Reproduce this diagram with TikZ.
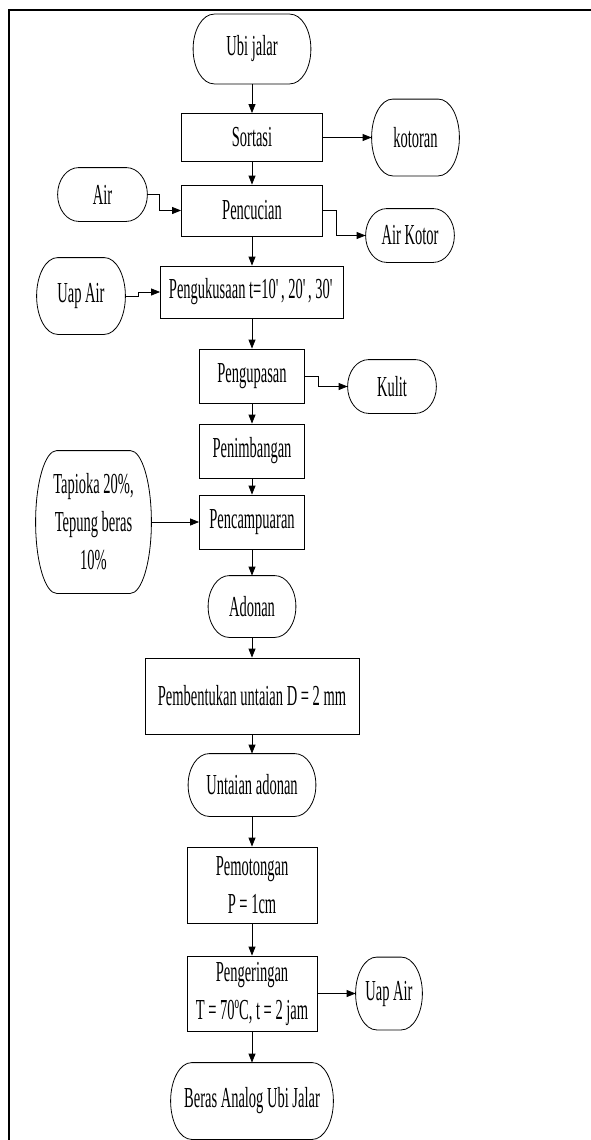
\documentclass[tikz,border=0pt]{standalone}
\usepackage{fontspec}
\setmainfont[FakeStretch=0.5]{Liberation Serif}
\usetikzlibrary{arrows.meta,calc}

\begin{document}
\begin{tikzpicture}[x=1pt,y=1pt,line width=0.8pt,
    font=\fontsize{29}{38}\selectfont]

      \useasboundingbox (0,0) rectangle (591,-1140);
      \draw[line width=2pt] (591,-10) -- (9,-10) -- (9,-1140);

      % proses
      \begin{scope}[every node/.style={rectangle,draw,align=center,inner sep=0pt}]
        \node[minimum width=141,minimum height=48] (sortasi) at (252,-137.5)  {Sortasi};
        \node[minimum width=141,minimum height=51] (cuci)    at (252,-210.5)  {Pencucian};
        \node[minimum width=183,minimum height=52] (kukus)   at (252,-292)    {Pengukusaan t=10\textquotesingle, 20\textquotesingle, 30\textquotesingle};
        \node[minimum width=105,minimum height=54] (kupas)   at (252,-376)    {Pengupasan};
        \node[minimum width=105,minimum height=54] (timbang) at (252,-451)    {Penimbangan};
        \node[minimum width=105,minimum height=54] (campur)  at (252,-522)    {Pencampuaran};
        \node[minimum width=214,minimum height=76] (bentuk)  at (252,-696)    {Pembentukan untaian D = 2 mm};
        \node[minimum width=130,minimum height=76] (potong)  at (252,-885)    {Pemotongan\\P = 1cm};
        \node[minimum width=130,minimum height=75] (kering)  at (252,-993.5)  {Pengeringan\\T = 70ºC, t = 2 jam};
      \end{scope}

      % bahan masuk / keluar
      \begin{scope}[every node/.style={align=center,inner sep=0pt}]
        \node[minimum width=117,minimum height=69]  (ubi)      at (252,-49)     {Ubi jalar};
        \node[minimum width=87,minimum height=76]   (kotoran)  at (415.5,-137.5) {kotoran};
        \node[minimum width=89,minimum height=53]   (air)      at (102.5,-194.5) {Air};
        \node[minimum width=88,minimum height=53]   (airkotor) at (410,-235.5)  {Air Kotor};
        \node[minimum width=88,minimum height=76]   (uapkiri)  at (81,-296)     {Uap Air};
        \node[minimum width=88,minimum height=53]   (kulit)    at (392,-386.5)  {Kulit};
        \node[minimum width=115,minimum height=142] (tapioka)  at (93.5,-522)   {Tapioka 20\%,\\Tepung beras\\10\%};
        \node[minimum width=87,minimum height=61]   (adonan)   at (252,-606.5)  {Adonan};
        \node[minimum width=127,minimum height=62]  (untaian)  at (252,-785)    {Untaian adonan};
        \node[minimum width=66,minimum height=72]   (uapkanan) at (389,-993.5)  {Uap Air};
        \node[minimum width=162,minimum height=76]  (beras)    at (252,-1101)   {Beras Analog Ubi Jalar};
      \end{scope}

      % garis tepi terminator
      \foreach \t in {ubi,kotoran,air,airkotor,uapkiri,kulit,tapioka,adonan,untaian,uapkanan,beras}
        \draw let \p1=(\t.north), \p2=(\t.south), \n1={(\y1-\y2)/2} in
          ([xshift=21pt]\t.north west) -- ([xshift=-21pt]\t.north east)
          arc[start angle=90,end angle=-90,x radius=21pt,y radius=\n1]
          -- ([xshift=21pt]\t.south west)
          arc[start angle=270,end angle=90,x radius=21pt,y radius=\n1] -- cycle;

      \begin{scope}[every edge/.style={draw,-{Triangle[length=9pt,width=7pt]}}]
        \path (ubi)     edge (sortasi);
        \path (sortasi) edge (cuci);
        \path (cuci)    edge (kukus);
        \path (kukus)   edge (kupas);
        \path (kupas)   edge (timbang);
        \path (timbang) edge (campur);
        \path (campur)  edge (adonan);
        \path (adonan)  edge (bentuk);
        \path (bentuk)  edge (untaian);
        \path (untaian) edge (potong);
        \path (potong)  edge (kering);
        \path (kering)  edge (beras);
        \path (sortasi) edge (kotoran);
        \path (tapioka) edge (campur);
        \path (kering)  edge (uapkanan);
        \path (air.east)     edge[to path={-- ++(12,0) |- (\tikztotarget)}] (cuci.west);
        \path (cuci.east)    edge[to path={-- ++(13,0) |- (\tikztotarget)}] (airkotor.west);
        \path (uapkiri.east) edge[to path={-- ++(13,0) |- (\tikztotarget)}] (kukus.west);
        \path (kupas.east)   edge[to path={-- ++(13,0) |- (\tikztotarget)}] (kulit.west);
      \end{scope}

    \end{tikzpicture}
\end{document}
